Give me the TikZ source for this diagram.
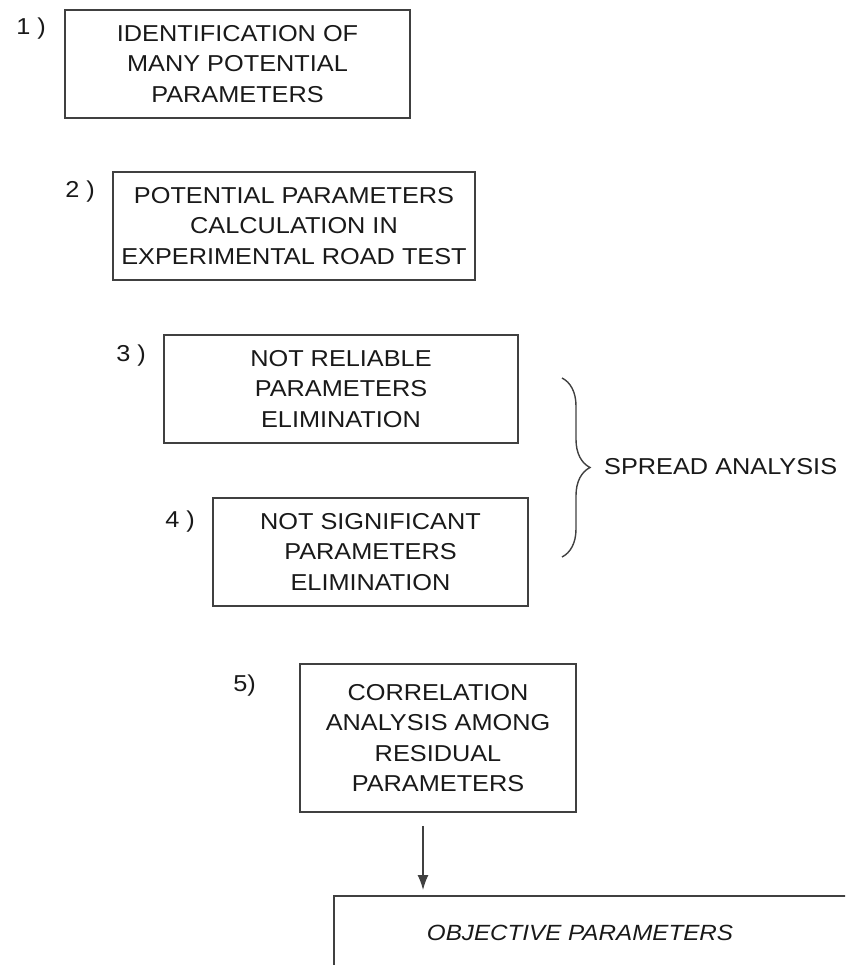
\documentclass[tikz,border=0pt]{standalone}
\usepackage{fontspec}
\setmainfont{Liberation Sans}[FakeStretch=1.1]
\usetikzlibrary{decorations.pathreplacing, arrows.meta}

\begin{document}
\begin{tikzpicture}[x=1pt, y=-1pt,
	 box/.style = {draw = black!75, line width = 1.6pt, align = center,
	   text = black!90, inner sep = 0pt},
	 num/.style = {text = black!90, anchor = north east, inner sep = 0pt},
	 font = \fontsize{23}{30.5}\selectfont]
	 \clip (0, 0) rectangle (845, 965);

	 % steps of the selection
	 \node[box, minimum width = 345, minimum height = 108] (ident) at (237.5, 64)
	   {IDENTIFICATION OF\\MANY POTENTIAL\\PARAMETERS};
	 \node[num] (n1) at (46, 18) {1 )};

	 \node[box, minimum width = 362, minimum height = 108] (calc) at (294, 226)
	   {POTENTIAL PARAMETERS\\CALCULATION IN\\EXPERIMENTAL ROAD TEST};
	 \node[num] (n2) at (95, 181) {2 )};

	 \node[box, minimum width = 354, minimum height = 108] (reliab) at (341, 389)
	   {NOT RELIABLE\\PARAMETERS\\ELIMINATION};
	 \node[num] (n3) at (146, 345) {3 )};

	 \node[box, minimum width = 315, minimum height = 108] (signif) at (370.5, 552)
	   {NOT SIGNIFICANT\\PARAMETERS\\ELIMINATION};
	 \node[num] (n4) at (195, 511) {4 )};

	 \node[box, minimum width = 276, minimum height = 148] (corr) at (438, 738)
	   {CORRELATION\\ANALYSIS AMONG\\RESIDUAL\\PARAMETERS};
	 \node[num] (n5) at (256, 675) {5)};

	 % result, running off the page
	 \node[box, minimum width = 560, minimum height = 110, anchor = north west]
	   (obj) at (333, 895) {};
	 \node[text = black!90, font = \fontsize{22}{26}\selectfont\itshape] (objtxt)
	   at (580, 933) {OBJECTIVE PARAMETERS};

	 \coordinate (out) at ([xshift = -15pt]corr.south);
	 \draw[black!75, line width = 1.4pt, -{Latex[length = 15pt, width = 11pt]},
	   shorten < = 13pt, shorten > = 5pt]
	   (out) -- (out |- obj.north);

	 % steps 3 and 4 together
	 \draw[black!75, line width = 1.4pt, decorate,
	   decoration = {brace, amplitude = 28pt}] (562, 378) -- (562, 557);
	 \node[text = black!90, anchor = west, inner sep = 0pt] (spread) at (604, 467)
	   {SPREAD ANALYSIS};
\end{tikzpicture}
\end{document}
